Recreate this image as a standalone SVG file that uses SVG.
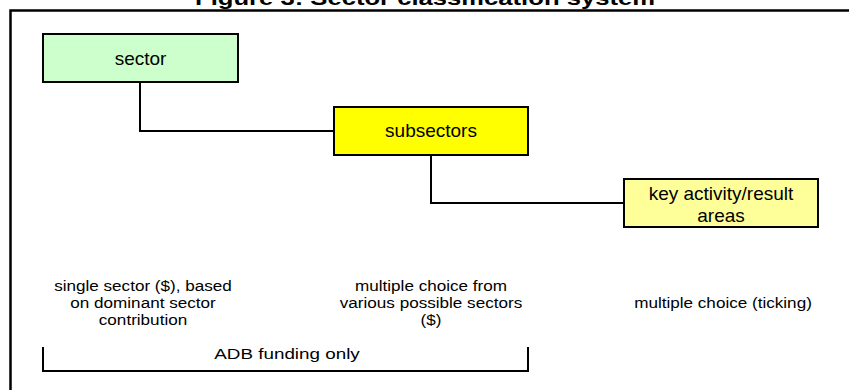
<svg xmlns="http://www.w3.org/2000/svg" width="849" height="390" viewBox="0 0 849 390">
<style>
.t{font-family:"Liberation Sans",Arial,sans-serif;fill:#000}
.box{stroke:#000;stroke-width:2}
.con{fill:none;stroke:#000;stroke-width:2}
.lbl{font-size:19px}
.note{font-size:14.5px}
</style>
<rect width="849" height="390" fill="#fff"/>
<text class="t" x="425" y="5" text-anchor="middle" font-size="20" font-weight="bold" textLength="460" lengthAdjust="spacingAndGlyphs">Figure 3: Sector classification system</text>
<rect x="10.5" y="10.5" width="900" height="420" fill="none" stroke="#000" stroke-width="2.5"/>
<g id="connectors">
<path class="con" d="M140 82V131H334"/>
<path class="con" d="M431 155V203H624"/>
</g>
<g id="sector">
<rect class="box" x="43" y="34" width="195" height="48" fill="#CCFFCC"/>
<text class="t lbl" x="140.5" y="64.5" text-anchor="middle">sector</text>
</g>
<g id="subsectors">
<rect class="box" x="334" y="107" width="194" height="48" fill="#FFFF00"/>
<text class="t lbl" x="431" y="137" text-anchor="middle">subsectors</text>
</g>
<g id="key">
<rect class="box" x="624" y="179" width="194" height="48" fill="#FFFF99"/>
<text class="t lbl" x="721" y="200" text-anchor="middle">key activity/result</text>
<text class="t lbl" x="721" y="222" text-anchor="middle">areas</text>
</g>
<g id="notes">
<g transform="translate(143 0) scale(1.18 1)">
<text class="t note" x="0" y="291" text-anchor="middle">single sector ($), based</text>
<text class="t note" x="0" y="308" text-anchor="middle">on dominant sector</text>
<text class="t note" x="0" y="325" text-anchor="middle">contribution</text>
</g>
<g transform="translate(431 0) scale(1.18 1)">
<text class="t note" x="0" y="291" text-anchor="middle">multiple choice from</text>
<text class="t note" x="0" y="308" text-anchor="middle">various possible sectors</text>
<text class="t note" x="0" y="325" text-anchor="middle">($)</text>
</g>
<g transform="translate(723 0) scale(1.18 1)">
<text class="t note" x="0" y="308" text-anchor="middle">multiple choice (ticking)</text>
</g>
</g>
<g id="adb">
<path class="con" d="M43 347V371H528V347"/>
<g transform="translate(287 0) scale(1.3 1)">
<text class="t note" x="0" y="359" text-anchor="middle">ADB funding only</text>
</g>
</g>
</svg>
